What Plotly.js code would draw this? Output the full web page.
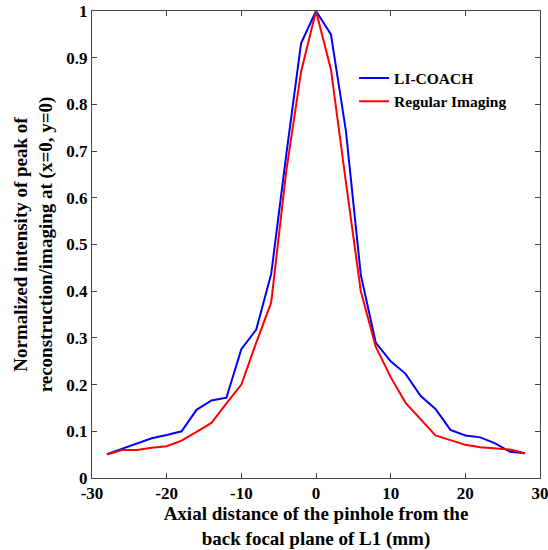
<!DOCTYPE html>
<html>
<head>
<meta charset="utf-8">
<script src="https://cdn.plot.ly/plotly-3.0.1.min.js"></script>
<style>html,body{margin:0;padding:0;background:#fff;}#chart{width:548px;height:550px;}</style>
</head>
<body>
<div id="chart"></div>
<script>
const xDist = [-28,-26,-24,-22,-20,-18,-16,-14,-12,-10,-8,-6,-4,-2,0,2,4,6,8,10,12,14,16,18,20,22,24,26,28];
const liCoach = [0.051,0.062,0.073,0.085,0.092,0.100,0.146,0.166,0.172,0.276,0.318,0.437,0.69,0.931,1.0,0.95,0.744,0.435,0.29,0.25,0.223,0.176,0.148,0.103,0.091,0.087,0.074,0.056,0.053];
const regular = [0.050,0.060,0.060,0.065,0.068,0.080,0.099,0.118,0.160,0.200,0.290,0.376,0.655,0.870,1.0,0.875,0.634,0.400,0.281,0.216,0.161,0.126,0.091,0.081,0.071,0.066,0.063,0.061,0.053];
const xTicks = [-30,-20,-10,0,10,20,30];
const yTicks = [0,0.1,0.2,0.3,0.4,0.5,0.6,0.7,0.8,0.9,1];
const yTickText = ['0','0.1','0.2','0.3','0.4','0.5','0.6','0.7','0.8','0.9','1'];
const seriesNames = ['LI-COACH','Regular Imaging'];

const font = 'Liberation Serif, Times New Roman, serif';
const traces = [
  {x: xDist, y: liCoach, name: seriesNames[0], type: 'scatter', mode: 'lines', line: {color: '#0000ff', width: 2}},
  {x: xDist, y: regular, name: seriesNames[1], type: 'scatter', mode: 'lines', line: {color: '#ff0000', width: 2}}
];
const axisCommon = {
  showline: true, linecolor: '#444', linewidth: 1, mirror: 'ticks',
  ticks: 'inside', ticklen: 5, tickcolor: '#444', showgrid: false, zeroline: false,
  ticklabeloverflow: 'allow',
  tickfont: {family: font, size: 17, color: '#000', weight: 'bold'}
};
const layout = {
  width: 548, height: 550,
  margin: {l: 92, r: 8, t: 11, b: 72},
  paper_bgcolor: '#fff', plot_bgcolor: '#fff',
  showlegend: true,
  legend: {x: 0.585, y: 0.892, xanchor: 'left', yanchor: 'top', bgcolor: 'rgba(0,0,0,0)',
           font: {family: font, size: 15.5, color: '#000', weight: 'bold'}, itemwidth: 30, tracegroupgap: 0},
  xaxis: Object.assign({}, axisCommon, {range: [-30, 30], tickvals: xTicks, ticktext: xTicks.map(String),
    title: {text: '<b>Axial distance of the pinhole from the<br>back focal plane of L1 (mm)</b>', font: {family: font, size: 19, color: '#000'}, standoff: 2}}),
  yaxis: Object.assign({}, axisCommon, {range: [0, 1], tickvals: yTicks, ticktext: yTickText,
    title: {text: '<b>Normalized intensity of peak of<br>reconstruction/imaging at (x=0, y=0)</b>', font: {family: font, size: 19, color: '#000'}, standoff: 8}})
};
Plotly.newPlot('chart', traces, layout, {displayModeBar: false, staticPlot: true});
</script>
</body>
</html>
